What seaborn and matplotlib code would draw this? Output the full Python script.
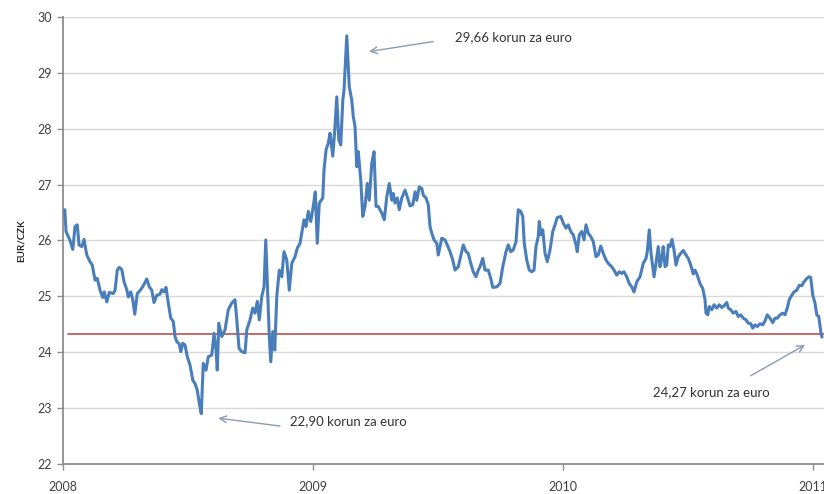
import matplotlib
matplotlib.use("Agg")
import matplotlib.pyplot as plt
import seaborn as sns
import pandas as pd

# EUR/CZK exchange rate, time given as decimal year
years = [
    2008.007, 2008.012, 2008.028, 2008.039, 2008.048, 2008.057, 2008.064, 2008.075, 2008.084, 2008.095,
    2008.108, 2008.117, 2008.128, 2008.137, 2008.148, 2008.159, 2008.165, 2008.175, 2008.185, 2008.201,
    2008.208, 2008.217, 2008.225, 2008.235, 2008.244, 2008.255, 2008.261, 2008.271, 2008.279, 2008.287,
    2008.297, 2008.311, 2008.321, 2008.335, 2008.345, 2008.355, 2008.364, 2008.375, 2008.388, 2008.395,
    2008.404, 2008.412, 2008.421, 2008.431, 2008.441, 2008.448, 2008.455, 2008.465, 2008.471, 2008.479,
    2008.488, 2008.497, 2008.508, 2008.519, 2008.528, 2008.537, 2008.545, 2008.553,
    2008.561, 2008.572, 2008.581, 2008.595, 2008.604, 2008.612, 2008.617, 2008.623, 2008.635, 2008.648,
    2008.661, 2008.675, 2008.688, 2008.695, 2008.704, 2008.715, 2008.728, 2008.735, 2008.748, 2008.759,
    2008.768, 2008.777, 2008.785, 2008.795, 2008.804, 2008.811, 2008.819, 2008.825, 2008.831, 2008.839,
    2008.847, 2008.855, 2008.865, 2008.875, 2008.884, 2008.895, 2008.905, 2008.915, 2008.928, 2008.937,
    2008.948, 2008.955, 2008.964, 2008.972, 2008.981, 2008.991, 2009.001, 2009.009, 2009.017, 2009.025,
    2009.039, 2009.044, 2009.052, 2009.061, 2009.068, 2009.079, 2009.087, 2009.095, 2009.103, 2009.111,
    2009.119, 2009.124, 2009.135, 2009.145, 2009.155, 2009.161, 2009.168, 2009.175, 2009.181, 2009.191,
    2009.199, 2009.208, 2009.217, 2009.225, 2009.235, 2009.244, 2009.252, 2009.261, 2009.275, 2009.285,
    2009.295, 2009.305, 2009.315, 2009.321, 2009.328, 2009.337, 2009.345, 2009.355, 2009.368, 2009.377,
    2009.388, 2009.399, 2009.408, 2009.415, 2009.425, 2009.435, 2009.441, 2009.452, 2009.461, 2009.468,
    2009.475, 2009.484, 2009.495, 2009.501, 2009.515, 2009.528, 2009.537, 2009.548, 2009.559, 2009.568,
    2009.581, 2009.595, 2009.601, 2009.612, 2009.621, 2009.631, 2009.641, 2009.652, 2009.661,
    2009.668, 2009.679, 2009.688, 2009.701, 2009.711, 2009.719, 2009.735, 2009.748, 2009.759, 2009.772,
    2009.781, 2009.791, 2009.801, 2009.812, 2009.821, 2009.831, 2009.839, 2009.845, 2009.855, 2009.865,
    2009.875, 2009.884, 2009.892, 2009.901, 2009.905, 2009.912, 2009.919, 2009.928, 2009.937, 2009.948,
    2009.959, 2009.968, 2009.977, 2009.991, 2010.001, 2010.012, 2010.021, 2010.031, 2010.041, 2010.052,
    2010.057, 2010.065, 2010.075, 2010.084, 2010.092, 2010.101, 2010.111, 2010.121, 2010.132, 2010.141,
    2010.151, 2010.161, 2010.172, 2010.181, 2010.195, 2010.204, 2010.215, 2010.225, 2010.235, 2010.244,
    2010.255, 2010.265, 2010.275, 2010.284, 2010.295,
    2010.308, 2010.321, 2010.332, 2010.337, 2010.345, 2010.352, 2010.359, 2010.364, 2010.372, 2010.381,
    2010.388, 2010.395, 2010.401, 2010.408, 2010.415, 2010.421, 2010.428, 2010.436, 2010.444, 2010.452,
    2010.461, 2010.471, 2010.481, 2010.492, 2010.501, 2010.511, 2010.521, 2010.528, 2010.537, 2010.548,
    2010.559, 2010.568, 2010.572, 2010.579, 2010.585, 2010.595, 2010.604, 2010.615, 2010.625, 2010.635,
    2010.644, 2010.655, 2010.661, 2010.671, 2010.681, 2010.692, 2010.701, 2010.711, 2010.721, 2010.732,
    2010.741, 2010.751, 2010.759, 2010.768, 2010.777, 2010.788, 2010.799, 2010.808, 2010.817, 2010.828,
    2010.839, 2010.848, 2010.857, 2010.868, 2010.879, 2010.888, 2010.897, 2010.905, 2010.915, 2010.924,
    2010.935, 2010.945, 2010.955, 2010.964, 2010.975, 2010.984, 2010.991, 2010.999, 2011.008, 2011.015,
    2011.023, 2011.031, 2011.036,
]
rates = [
    26.55, 26.16, 26.00, 25.84, 26.25, 26.28, 25.92, 25.89, 26.02, 25.74,
    25.62, 25.56, 25.29, 25.32, 25.11, 24.98, 25.08, 24.90, 25.07, 25.05,
    25.11, 25.47, 25.52, 25.48, 25.26, 25.12, 24.99, 25.08, 24.94, 24.68,
    25.05, 25.12, 25.19, 25.31, 25.17, 25.11, 24.89, 25.02, 25.04, 25.12,
    25.08, 25.16, 24.88, 24.61, 24.55, 24.28, 24.19, 24.15, 24.01, 24.16,
    24.13, 23.92, 23.77, 23.50, 23.44, 23.32, 23.09, 22.90,
    23.80, 23.68, 23.92, 23.95, 24.34, 24.04, 23.68, 24.52, 24.28, 24.40,
    24.76, 24.88, 24.94, 24.58, 24.07, 24.01, 23.99, 24.40, 24.58, 24.79,
    24.70, 24.91, 24.58, 25.00, 25.17, 26.01, 25.00, 24.28, 23.83, 24.37,
    24.04, 25.00, 25.47, 25.35, 25.80, 25.65, 25.11, 25.59, 25.71, 25.86,
    25.95, 26.13, 26.37, 26.25, 26.52, 26.34, 26.61, 26.87, 25.95, 26.67,
    26.76, 27.26, 27.62, 27.74, 27.92, 27.51, 27.98, 28.57, 27.80, 27.71,
    28.51, 28.69, 29.66, 28.75, 28.51, 28.22, 28.04, 27.32, 27.59, 27.08,
    26.43, 26.61, 27.02, 26.72, 27.38, 27.59, 26.61, 26.61, 26.49, 26.37,
    26.78, 27.02, 26.72, 26.84, 26.67, 26.76, 26.55, 26.76, 26.90, 26.78,
    26.62, 26.64, 26.87, 26.72, 26.96, 26.93, 26.81, 26.76, 26.64, 26.25,
    26.13, 26.01, 25.95, 25.74, 26.04, 26.01, 25.92, 25.80, 25.65, 25.47,
    25.53, 25.80, 25.92, 25.80, 25.77, 25.59, 25.44, 25.35, 25.47,
    25.53, 25.68, 25.47, 25.47, 25.32, 25.16, 25.17, 25.23, 25.53, 25.80,
    25.92, 25.80, 25.83, 25.98, 26.55, 26.52, 26.43, 25.95, 25.65, 25.47,
    25.44, 25.47, 25.89, 26.07, 26.34, 26.10, 26.19, 25.77, 25.62, 25.83,
    26.16, 26.28, 26.41, 26.43, 26.31, 26.22, 26.28, 26.16, 26.10, 25.92,
    25.80, 26.10, 26.16, 26.01, 26.28, 26.13, 26.07, 25.98, 25.71, 25.74,
    25.90, 25.77, 25.65, 25.59, 25.53, 25.47, 25.38, 25.44, 25.41, 25.44,
    25.35, 25.23, 25.17, 25.08, 25.26,
    25.35, 25.59, 25.68, 25.80, 26.19, 25.77, 25.53, 25.35, 25.59, 25.89,
    25.53, 25.68, 25.89, 25.53, 25.56, 25.92, 25.89, 26.02, 25.83, 25.56,
    25.71, 25.77, 25.82, 25.74, 25.68, 25.56, 25.40, 25.47, 25.38, 25.23,
    25.14, 24.94, 24.70, 24.67, 24.82, 24.76, 24.85, 24.79, 24.85, 24.80,
    24.83, 24.89, 24.79, 24.76, 24.70, 24.73, 24.64, 24.67, 24.61, 24.58,
    24.52, 24.51, 24.43, 24.49, 24.46, 24.51, 24.49, 24.56, 24.67, 24.61,
    24.53, 24.61, 24.61, 24.67, 24.70, 24.67, 24.79, 24.94, 25.02, 25.08,
    25.11, 25.20, 25.19, 25.26, 25.32, 25.35, 25.34, 25.02, 24.88, 24.67,
    24.64, 24.37, 24.27,
]
current_level = 24.32

year_ticks = [2008, 2009, 2010, 2011]
year_labels = ["2008", "2009", "2010", "2011"]
rate_ticks = [22, 23, 24, 25, 26, 27, 28, 29, 30]

notes = ["29,66 korun za euro", "22,90 korun za euro", "24,27 korun za euro"]

sns.set_style("white")
plt.rcParams["font.family"] = ["Lato", "DejaVu Sans"]

df = pd.DataFrame({"rok": years, "kurz": rates})

fig = plt.figure(figsize=(8.24, 4.94), dpi=100)
ax = fig.add_axes([0.0765, 0.0607, 0.9235, 0.905])

ax.set_ylim(22, 30)
ax.set_xlim(2008, 2011.044)
ax.set_yticks(rate_ticks)
ax.set_xticks(year_ticks)
ax.set_xticklabels(year_labels)
ax.yaxis.grid(True, color="#d9d9d9", linewidth=1.0)
ax.xaxis.grid(False)
ax.set_axisbelow(True)

sns.lineplot(data=df, x="rok", y="kurz", ax=ax, color="#4a7ebb",
             linewidth=2.2, estimator=None, sort=False, zorder=3)
ax.axhline(current_level, xmin=0.007, xmax=1.0, color="#b9504e",
           linewidth=1.2, zorder=2)

for side in ("top", "right"):
    ax.spines[side].set_visible(False)
for side in ("left", "bottom"):
    ax.spines[side].set_color("#8c8c8c")
    ax.spines[side].set_linewidth(1.3)

ax.tick_params(axis="y", which="major", left=True, length=4, width=1,
               color="#8c8c8c", labelsize=9, labelcolor="#404040", pad=4)
ax.tick_params(axis="x", which="major", bottom=True, length=4, width=1,
               color="#8c8c8c", labelsize=9, labelcolor="#404040", pad=8)

ax.set_xlabel("")
ax.set_ylabel("EUR/CZK", fontsize=7, fontweight="bold", color="#262626", labelpad=8)

arrow_style = dict(arrowstyle="->", color="#8a9bb3", linewidth=1.0,
                   shrinkA=0, shrinkB=0, mutation_scale=12)

# peak
ax.annotate("", xy=(2009.224, 29.38), xytext=(2009.481, 29.56), arrowprops=arrow_style)
ax.text(2009.568, 29.64, notes[0], fontsize=9.5, color="#333333", va="center", ha="left")

# low
ax.annotate("", xy=(2008.621, 22.82), xytext=(2008.868, 22.68), arrowprops=arrow_style)
ax.text(2008.908, 22.77, notes[1], fontsize=9.5, color="#333333", va="center", ha="left")

# latest value
ax.annotate("", xy=(2010.968, 24.13), xytext=(2010.751, 23.58), arrowprops=arrow_style)
ax.text(2010.36, 23.29, notes[2], fontsize=9.5, color="#333333", va="center", ha="left")

fig.savefig("out.png", dpi=100)
